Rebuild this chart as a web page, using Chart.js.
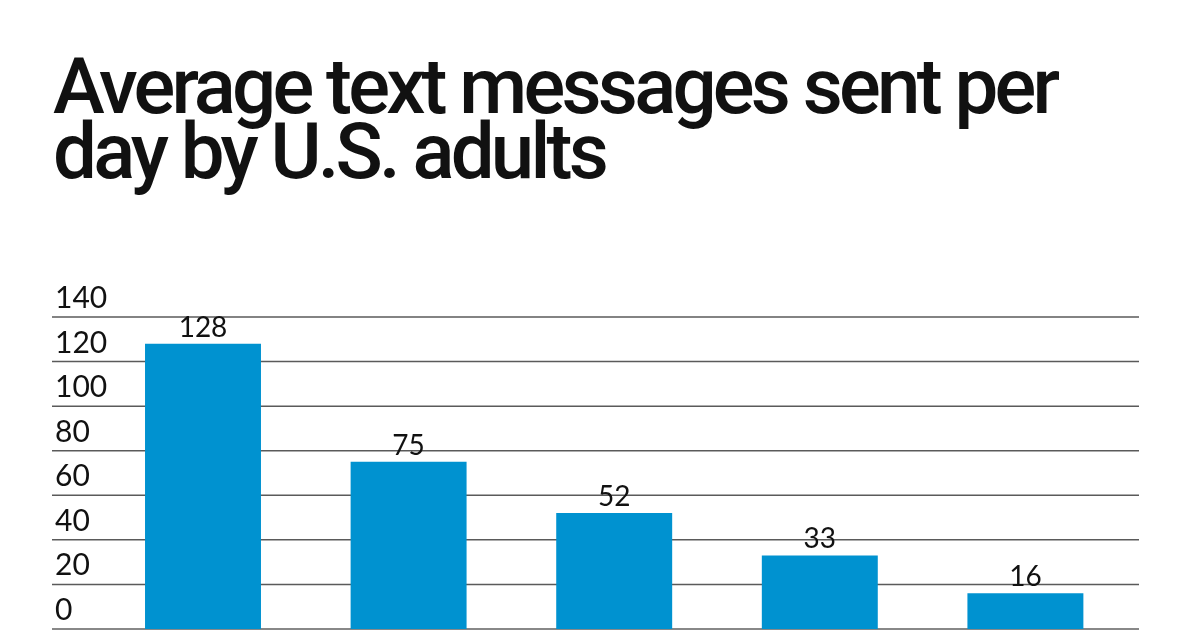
<!DOCTYPE html>
<html>
<head>
<meta charset="utf-8">
<script src="https://cdn.jsdelivr.net/npm/chart.js@4.4.1/dist/chart.umd.min.js"></script>
<style>
    html, body { margin: 0; padding: 0; background: #fff; }
    #wrap { position: relative; width: 1200px; height: 630px; overflow: hidden; }
    #title {
        position: absolute; left: 53px; top: 54px;
        font-family: Roboto, "Noto Sans", sans-serif; font-weight: 500;
        font-size: 78px; line-height: 65px; letter-spacing: -3.8px;
        color: #111; white-space: nowrap;
    }
    canvas { position: absolute; left: 0; top: 0; }
</style>
</head>
<body>
<div id="wrap">
    <div id="title">Average text messages sent per<br>day by U.S. adults</div>
    <canvas id="barChart" width="1200" height="630"></canvas>
</div>
<script>
// age groups (labels are cropped off in the picture)
const categories = ['18-24', '25-34', '35-44', '45-54', '55+'];
const messagesPerDay = [128, 75, 52, 33, 16];
const yTicks = [0, 20, 40, 60, 80, 100, 120, 140];

const barColor = '#0092d0';
const fontFamily = 'Lato, "Noto Sans", sans-serif';

// gridlines run from the tick labels to just past the last bar,
// tick labels sit on top of their line
const gridAndTicks = {
    id: 'gridAndTicks',
    beforeDatasetsDraw(chart) {
        const ctx = chart.ctx;
        const y = chart.scales.y;
        ctx.save();
        ctx.font = '30px ' + fontFamily;
        ctx.textAlign = 'left';
        ctx.textBaseline = 'alphabetic';
        yTicks.forEach(v => {
            const py = y.getPixelForValue(v);
            ctx.beginPath();
            ctx.strokeStyle = v === 0 ? '#888' : '#5a5a5a';
            ctx.lineWidth = v === 0 ? 2 : 1.5;
            ctx.moveTo(52, py);
            ctx.lineTo(1139, py);
            ctx.stroke();
            ctx.fillStyle = '#111';
            ctx.fillText(String(v), 55, py - 9);
        });
        ctx.restore();
    }
};

// value labels above each bar
const valueLabels = {
    id: 'valueLabels',
    afterDatasetsDraw(chart) {
        const ctx = chart.ctx;
        const meta = chart.getDatasetMeta(0);
        ctx.save();
        ctx.font = '28px ' + fontFamily;
        ctx.fillStyle = '#111';
        ctx.textAlign = 'center';
        ctx.textBaseline = 'alphabetic';
        meta.data.forEach((bar, i) => {
            ctx.fillText(String(messagesPerDay[i]), bar.x, bar.y - 7);
        });
        ctx.restore();
    }
};

function initBarChart() {
    const ctx = document.getElementById('barChart').getContext('2d');
    new Chart(ctx, {
        type: 'bar',
        data: {
            labels: categories,
            datasets: [{
                label: 'Texts per day',
                data: messagesPerDay,
                backgroundColor: barColor,
                borderWidth: 0,
                categoryPercentage: 1,
                barPercentage: 0.564
            }]
        },
        options: {
            responsive: false,
            animation: false,
            layout: { padding: { top: 317, bottom: 1, left: 100.2, right: 71.8 } },
            plugins: {
                legend: { display: false },
                tooltip: { enabled: false },
                title: { display: false }
            },
            scales: {
                x: { display: false },
                y: { display: false, min: 0, max: 140 }
            }
        },
        plugins: [gridAndTicks, valueLabels]
    });
}

initBarChart();
</script>
</body>
</html>
